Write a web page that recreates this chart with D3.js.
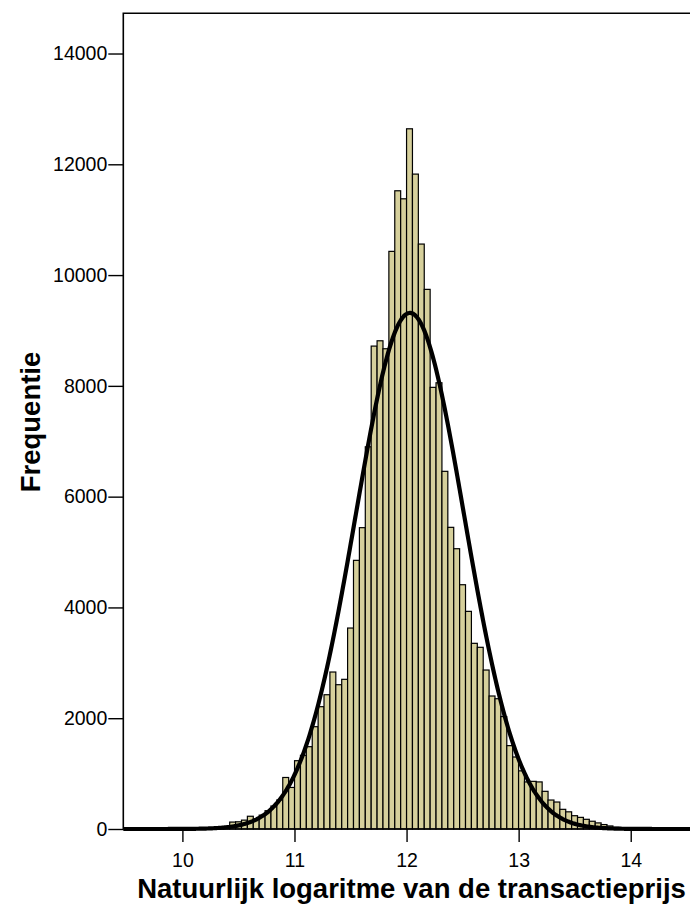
<!DOCTYPE html>
<html>
<head>
<meta charset="utf-8">
<script src="https://cdn.jsdelivr.net/npm/d3@7/dist/d3.min.js"></script>
<style>
  html, body { margin: 0; padding: 0; background: #ffffff; }
  svg { display: block; font-family: "Liberation Sans", Arial, Helvetica, sans-serif; }
</style>
</head>
<body>
<svg id="chart" width="690" height="912"></svg>
<script>
// Histogram of ln(transaction price): bin layout and counts per bin
const binStart = 10.2116;   // left edge of the first bin
const binWidth = 0.0526;    // width of each bin
const counts = [
  8, 15, 25, 45, 125, 130, 160, 230, 180, 250, 330, 415, 525, 930, 750,
  1233, 1330, 1486, 1847, 2208, 2424, 2834, 2605, 2702, 3628,
  4850, 5440, 6900, 8718, 8814, 8670, 10428, 11522, 11377,
  12641, 11823, 10560, 9742, 7973, 8056, 6457, 5446, 5060, 4410,
  3929, 3352, 3280, 2870, 2401, 2352, 2030, 1505, 1300, 1050, 850,
  860, 850, 680, 523, 487, 355, 310, 240, 210, 175, 140, 110, 80, 55, 30, 15
];

// Fitted normal curve parameters
const curveMean = 12.03;
const curveSd = 0.485;

// Axis ticks and titles
const xTicks = [10, 11, 12, 13, 14];
const yTicks = [0, 2000, 4000, 6000, 8000, 10000, 12000, 14000];
const xTitle = "Natuurlijk logaritme van de transactieprijs";
const yTitle = "Frequentie";

const svg = d3.select("#chart");

const plot = { left: 123.3, top: 13.3, bottom: 829 };

const x = d3.scaleLinear().domain([9.4727, 15]).range([plot.left, 742.8]);
const y = d3.scaleLinear().domain([0, 14726]).range([plot.bottom, plot.top]);

const bins = counts.map((c, i) => ({
  x0: binStart + i * binWidth,
  x1: binStart + (i + 1) * binWidth,
  count: c
}));

// Bars
svg.append("g")
  .selectAll("rect")
  .data(bins)
  .join("rect")
  .attr("x", d => x(d.x0))
  .attr("width", d => x(d.x1) - x(d.x0))
  .attr("y", d => y(d.count))
  .attr("height", d => y(0) - y(d.count))
  .attr("fill", "#d6d09c")
  .attr("stroke", "#000")
  .attr("stroke-width", 1.2);

// Normal curve scaled to the histogram area
const total = d3.sum(counts);
const pdf = v => Math.exp(-0.5 * ((v - curveMean) / curveSd) ** 2) / (curveSd * Math.sqrt(2 * Math.PI));
const curvePts = d3.range(9.4727, 15.0001, 0.01).map(v => [v, total * binWidth * pdf(v)]);

svg.append("path")
  .datum(curvePts)
  .attr("fill", "none")
  .attr("stroke", "#000")
  .attr("stroke-width", 4.2)
  .attr("stroke-linejoin", "round")
  .attr("d", d3.line().x(d => x(d[0])).y(d => y(d[1])).curve(d3.curveBasis));

// Frame: left, top and bottom lines
const frame = svg.append("g").attr("stroke", "#000").attr("stroke-width", 1.6).attr("fill", "none");
frame.append("path").attr("d", `M${690},${plot.top}H${plot.left}V${plot.bottom}H${690}`);

// Y axis
const yAxis = svg.append("g")
  .attr("transform", `translate(${plot.left},0)`)
  .call(d3.axisLeft(y).tickValues(yTicks).tickSize(15).tickPadding(1).tickFormat(d3.format("d")));
yAxis.select(".domain").remove();
yAxis.selectAll("line").attr("stroke", "#000").attr("stroke-width", 1.4);
yAxis.selectAll("text").attr("font-size", 19.5).attr("fill", "#000")
  .attr("font-family", "'Liberation Sans', Arial, sans-serif");

// X axis
const xAxis = svg.append("g")
  .attr("transform", `translate(0,${plot.bottom})`)
  .call(d3.axisBottom(x).tickValues(xTicks).tickSize(13).tickPadding(11).tickFormat(d3.format("d")));
xAxis.select(".domain").remove();
xAxis.selectAll("line").attr("stroke", "#000").attr("stroke-width", 1.4);
xAxis.selectAll("text").attr("font-size", 19.5).attr("fill", "#000")
  .attr("font-family", "'Liberation Sans', Arial, sans-serif");

// Axis titles
svg.append("text")
  .attr("x", 411.5)
  .attr("y", 898)
  .attr("text-anchor", "middle")
  .attr("font-size", 27.5)
  .attr("font-weight", "bold")
  .text(xTitle);

svg.append("text")
  .attr("transform", `translate(40,422) rotate(-90)`)
  .attr("text-anchor", "middle")
  .attr("font-size", 27.5)
  .attr("font-weight", "bold")
  .text(yTitle);
</script>
</body>
</html>
